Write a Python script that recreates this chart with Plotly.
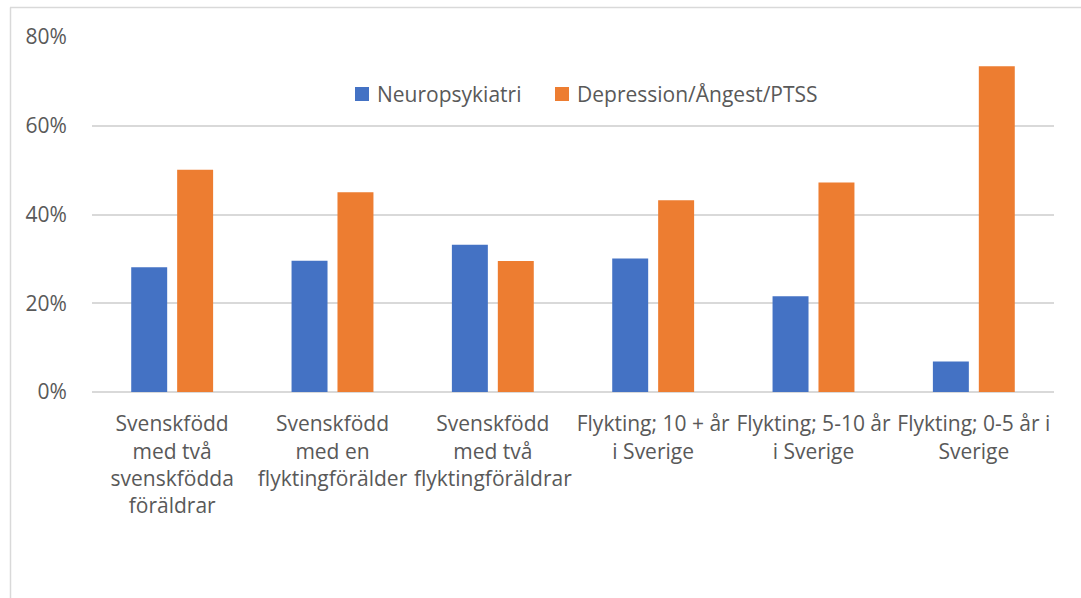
import plotly.graph_objects as go

categories = [
    "Svenskfödd<br>med två<br>svenskfödda<br>föräldrar",
    "Svenskfödd<br>med en<br>flyktingförälder",
    "Svenskfödd<br>med två<br>flyktingföräldrar",
    "Flykting; 10 + år<br>i Sverige",
    "Flykting; 5-10 år<br>i Sverige",
    "Flykting; 0-5 år i<br>Sverige",
]
neuropsykiatri = [0.281, 0.296, 0.332, 0.301, 0.216, 0.069]
depression = [0.501, 0.450, 0.295, 0.432, 0.472, 0.734]

series_names = ["Neuropsykiatri", "Depression/Ångest/PTSS"]
series_colors = ["#4472C4", "#ED7D31"]

y_ticks = [0, 0.2, 0.4, 0.6, 0.8]
y_ticktext = ["0%", "20%", "40%", "60%", "80%"]

W, H = 1081, 598
L, R, T, B = 92, 27, 37, 206
pw, ph = W - L - R, H - T - B

def px_x(x):
    return (x - L) / pw

def px_y(y):
    return (H - B - y) / ph

FONT = "Open Sans"
TXT = "#595959"
GRID = "#d9d9d9"

fig = go.Figure()
for name, vals, col in zip(series_names, [neuropsykiatri, depression], series_colors):
    fig.add_trace(go.Bar(x=categories, y=vals, name=name,
                         marker=dict(color=col, line=dict(width=0))))

# Legend row drawn as swatches + labels above the bars
shapes = [
    dict(type="line", xref="paper", yref="paper",
         x0=px_x(10.5), x1=px_x(10.5), y0=px_y(7.5), y1=px_y(600),
         line=dict(color=GRID, width=1.5)),
    dict(type="line", xref="paper", yref="paper",
         x0=px_x(10), x1=px_x(1085), y0=px_y(7.5), y1=px_y(7.5),
         line=dict(color=GRID, width=1.5)),
]
annotations = []
for name, col, sx in zip(series_names, series_colors, [355, 555]):
    shapes.append(dict(type="rect", xref="paper", yref="paper",
                       x0=px_x(sx), x1=px_x(sx + 14), y0=px_y(101), y1=px_y(87),
                       fillcolor=col, line=dict(width=0)))
    annotations.append(dict(xref="paper", yref="paper", x=px_x(sx + 20), y=px_y(94),
                            xanchor="left", yanchor="middle", showarrow=False,
                            text=name, font=dict(size=21, color=TXT, family=FONT)))

fig.update_layout(
    width=W, height=H,
    margin=dict(l=L, r=R, t=T, b=B, autoexpand=False),
    paper_bgcolor="white", plot_bgcolor="white",
    barmode="group", bargap=0.427, bargroupgap=0.217,
    font=dict(family=FONT, color=TXT, size=21),
    showlegend=False,
    xaxis=dict(type="category", tickangle=0, showgrid=False, zeroline=False,
               showline=False, ticks="outside", ticklen=13, tickcolor="rgba(0,0,0,0)",
               tickfont=dict(size=21, color=TXT, family=FONT)),
    yaxis=dict(range=[0, 0.8], tickvals=y_ticks, ticktext=y_ticktext,
               showgrid=True, gridcolor=GRID, gridwidth=1.5,
               zeroline=True, zerolinecolor=GRID, zerolinewidth=1.5,
               showline=False, ticks="outside", ticklen=20, tickcolor="rgba(0,0,0,0)",
               tickfont=dict(size=21, color=TXT, family=FONT)),
    shapes=shapes,
    annotations=annotations,
)

fig.write_html("out.html")
